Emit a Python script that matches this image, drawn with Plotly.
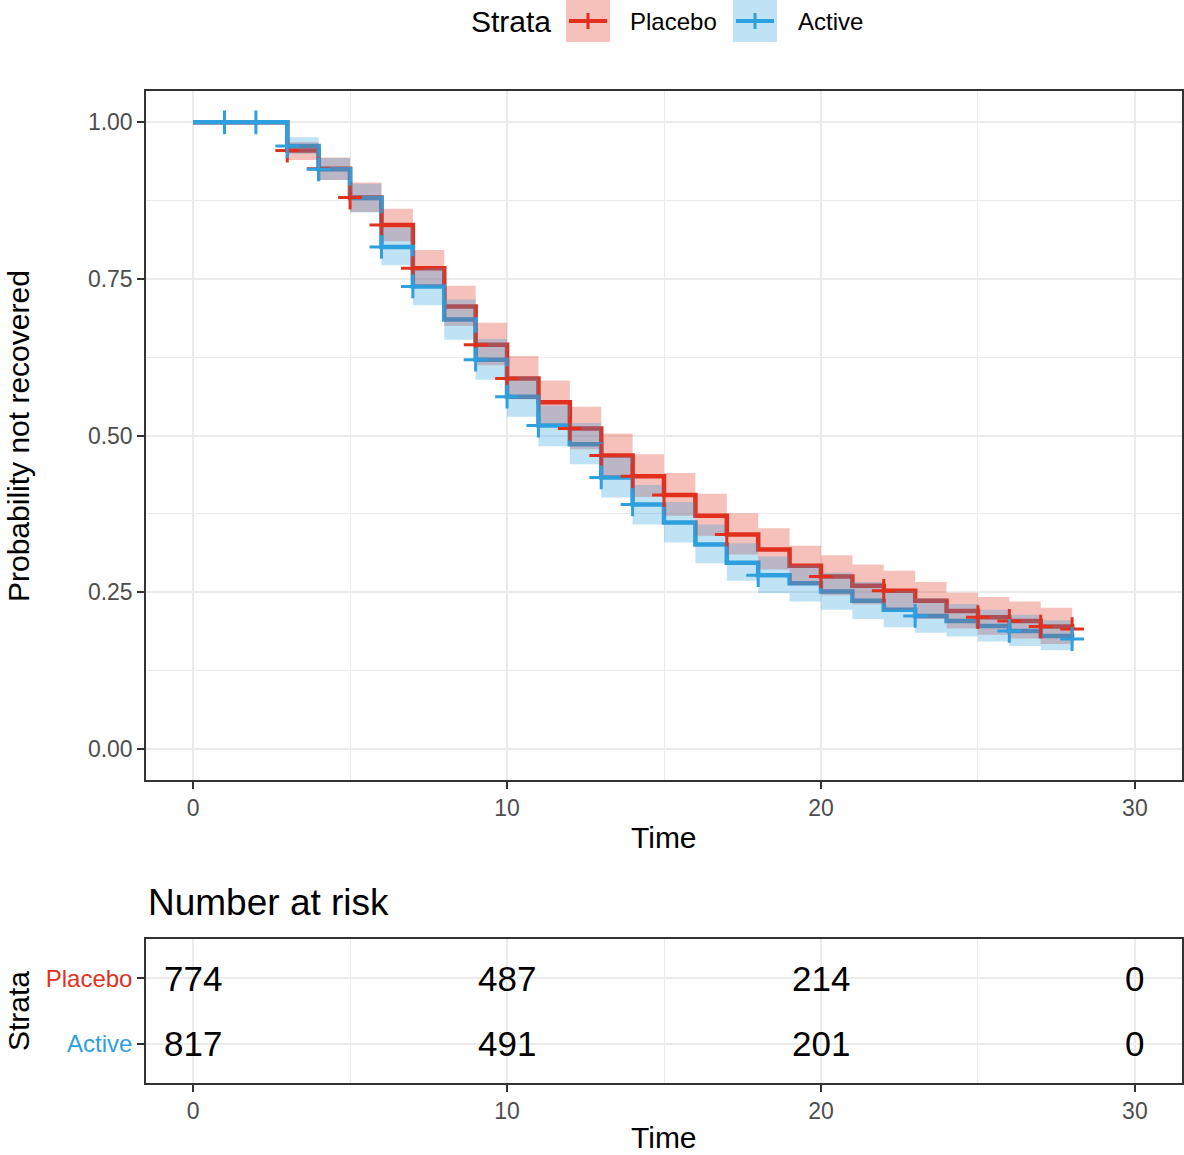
import plotly.graph_objects as go

W, H = 1184, 1155
FONT = "Liberation Sans, Arial, sans-serif"

RED = "#E2301F"
BLUE = "#2E9FDF"
RED_BAND = "rgba(226, 48, 31, 0.30)"
BLUE_BAND = "rgba(46, 159, 223, 0.30)"

# Kaplan-Meier estimates: value holds from each step time until the next one
step_times = [0, 3, 4, 5, 6, 7, 8, 9, 10, 11, 12, 13, 14, 15, 16, 17, 18, 19,
              20, 21, 22, 23, 24, 25, 26, 27, 28]
end_time = 28

placebo_surv = [1.000, 0.955, 0.926, 0.880, 0.836, 0.767, 0.706, 0.645, 0.591,
                0.553, 0.511, 0.468, 0.435, 0.405, 0.372, 0.342, 0.318, 0.292,
                0.275, 0.260, 0.252, 0.236, 0.220, 0.210, 0.204, 0.195, 0.191]
placebo_lower = [1.000, 0.940, 0.908, 0.857, 0.810, 0.739, 0.675, 0.612, 0.558,
                 0.519, 0.478, 0.435, 0.402, 0.372, 0.340, 0.310, 0.286, 0.261,
                 0.245, 0.230, 0.222, 0.207, 0.192, 0.182, 0.176, 0.167, 0.164]
placebo_upper = [1.000, 0.968, 0.944, 0.904, 0.862, 0.796, 0.739, 0.680, 0.627,
                 0.588, 0.546, 0.503, 0.470, 0.440, 0.407, 0.376, 0.352, 0.324,
                 0.309, 0.294, 0.284, 0.266, 0.249, 0.242, 0.235, 0.225, 0.222]

active_surv = [1.000, 0.962, 0.925, 0.879, 0.801, 0.738, 0.685, 0.621, 0.562,
               0.516, 0.486, 0.433, 0.390, 0.361, 0.326, 0.297, 0.277, 0.264,
               0.251, 0.236, 0.222, 0.212, 0.204, 0.196, 0.188, 0.180, 0.175]
active_lower = [1.000, 0.950, 0.908, 0.856, 0.772, 0.708, 0.653, 0.589, 0.530,
                0.483, 0.454, 0.401, 0.358, 0.329, 0.296, 0.268, 0.248, 0.235,
                0.222, 0.207, 0.194, 0.185, 0.179, 0.171, 0.164, 0.157, 0.153]
active_upper = [1.000, 0.976, 0.943, 0.902, 0.832, 0.767, 0.717, 0.654, 0.594,
                0.548, 0.520, 0.466, 0.421, 0.394, 0.358, 0.328, 0.307, 0.293,
                0.281, 0.266, 0.252, 0.240, 0.231, 0.222, 0.214, 0.205, 0.200]

# censoring times per arm
placebo_censor = [3, 4, 5, 6, 7, 9, 10, 12, 13, 14, 15, 17, 20, 22, 25, 26, 27, 28]
active_censor = [1, 2, 3, 4, 6, 7, 9, 10, 11, 13, 14, 18, 23, 26, 28]

# number at risk table
risk_times = [0, 10, 20, 30]
placebo_risk = [774, 487, 214, 0]
active_risk = [817, 491, 201, 0]

strata = ["Placebo", "Active"]


def step_path(times, values, t_end):
    xs, ys = [], []
    bounds = list(times[1:]) + [t_end]
    for t0, t1, v in zip(times, bounds, values):
        xs += [t0, t1]
        ys += [v, v]
    return xs, ys


def surv_at(t, times, values):
    out = values[0]
    for ti, v in zip(times, values):
        if ti <= t:
            out = v
    return out


def px(x):
    return x / W


def py(y):
    return 1 - y / H


fig = go.Figure()

groups = [
    ("Placebo", placebo_surv, placebo_lower, placebo_upper, placebo_censor, RED, RED_BAND),
    ("Active", active_surv, active_lower, active_upper, active_censor, BLUE, BLUE_BAND),
]

# step curves
for name, surv, lo, up, cens, col, band in groups:
    xs, ys = step_path(step_times, surv, end_time)
    fig.add_trace(go.Scatter(x=xs, y=ys, mode="lines", name=name,
                             line=dict(color=col, width=4.5), showlegend=False,
                             xaxis="x", yaxis="y"))

# confidence bands
for name, surv, lo, up, cens, col, band in groups:
    ux, uy = step_path(step_times, up, end_time)
    lx, ly = step_path(step_times, lo, end_time)
    fig.add_trace(go.Scatter(x=ux + lx[::-1], y=uy + ly[::-1], mode="lines",
                             fill="toself", fillcolor=band,
                             line=dict(width=0, color=band), showlegend=False,
                             hoverinfo="skip", xaxis="x", yaxis="y"))

# censor marks
for name, surv, lo, up, cens, col, band in groups:
    fig.add_trace(go.Scatter(
        x=cens, y=[surv_at(t, step_times, surv) for t in cens], mode="markers",
        marker=dict(symbol="cross-thin", size=17, line=dict(color=col, width=3)),
        showlegend=False, xaxis="x", yaxis="y"))

GRID = "#EBEBEB"
BORDER = "#333333"
TICKFONT = dict(family=FONT, size=23, color="#4D4D4D")

common_x = dict(
    range=[-1.5, 31.5], tickvals=[0, 10, 20, 30], ticks="outside", ticklen=7,
    tickwidth=2, tickcolor=BORDER, showline=True, linecolor=BORDER, linewidth=1.5,
    mirror=True, showgrid=True, gridcolor=GRID, gridwidth=2, zeroline=False,
    tickfont=TICKFONT, ticklabelstandoff=0,
    minor=dict(tickvals=[5, 15, 25], showgrid=True, gridcolor=GRID, gridwidth=1, ticks=""),
)

fig.update_layout(
    width=W, height=H, margin=dict(l=0, r=0, t=0, b=0),
    paper_bgcolor="white", plot_bgcolor="white",
    font=dict(family=FONT),
    xaxis=dict(domain=[px(146), px(1182)], anchor="y", **common_x),
    yaxis=dict(
        domain=[py(780), py(91)], anchor="x", range=[-0.05, 1.05],
        tickvals=[0, 0.25, 0.5, 0.75, 1.0],
        ticktext=["0.00", "0.25", "0.50", "0.75", "1.00"],
        ticks="outside", ticklen=7, tickwidth=2, tickcolor=BORDER,
        showline=True, linecolor=BORDER, linewidth=1.5, mirror=True,
        showgrid=True, gridcolor=GRID, gridwidth=2, zeroline=False,
        tickfont=TICKFONT,
        minor=dict(tickvals=[0.125, 0.375, 0.625, 0.875], showgrid=True,
                   gridcolor=GRID, gridwidth=1, ticks=""),
    ),
    xaxis2=dict(domain=[px(146), px(1182)], anchor="y2", **common_x),
    yaxis2=dict(
        domain=[py(1083), py(939)], anchor="x2", range=[0.4, 2.6],
        tickvals=[2, 1],
        ticktext=[f'<span style="color:{RED}">{strata[0]}</span>',
                  f'<span style="color:{BLUE}">{strata[1]}</span>'],
        ticks="outside", ticklen=7, tickwidth=2, tickcolor=BORDER,
        showline=True, linecolor=BORDER, linewidth=1.5, mirror=True,
        showgrid=True, gridcolor=GRID, gridwidth=2, zeroline=False,
        tickfont=dict(family=FONT, size=24),
    ),
)

annotations = [
    dict(text="Time", x=px(664), y=py(838), font=dict(size=30, color="black")),
    dict(text="Time", x=px(664), y=py(1137), font=dict(size=30, color="black")),
    dict(text="Probability not recovered", x=px(18), y=py(436), textangle=-90,
         font=dict(size=30, color="black")),
    dict(text="Strata", x=px(18), y=py(1011), textangle=-90,
         font=dict(size=30, color="black")),
    dict(text="Number at risk", x=px(146), y=py(902), xanchor="left",
         font=dict(size=37, color="black")),
    dict(text="Strata", x=px(469), y=py(21), xanchor="left",
         font=dict(size=30, color="black")),
    dict(text="Placebo", x=px(628), y=py(21), xanchor="left",
         font=dict(size=24, color="black")),
    dict(text="Active", x=px(796), y=py(21), xanchor="left",
         font=dict(size=24, color="black")),
]
for a in annotations:
    a.setdefault("xanchor", "center")
    a.update(xref="paper", yref="paper", yanchor="middle", showarrow=False)
    a["font"]["family"] = FONT

# risk table numbers, placed on the table's own axes
for row, counts in zip([2, 1], [placebo_risk, active_risk]):
    for t, c in zip(risk_times, counts):
        annotations.append(dict(
            text=str(c), x=t, y=row, xref="x2", yref="y2", xanchor="center",
            yanchor="middle", showarrow=False,
            font=dict(family=FONT, size=35, color="black")))

fig.update_layout(annotations=annotations)

# legend keys
shapes = []
for x0, col, band in [(566, RED, RED_BAND), (733, BLUE, BLUE_BAND)]:
    shapes.append(dict(type="rect", xref="paper", yref="paper",
                       x0=px(x0), x1=px(x0 + 44), y0=py(42), y1=py(0),
                       fillcolor=band, line=dict(width=0), layer="above"))
    shapes.append(dict(type="line", xref="paper", yref="paper",
                       x0=px(x0 + 3), x1=px(x0 + 41), y0=py(21), y1=py(21),
                       line=dict(color=col, width=4), layer="above"))
    shapes.append(dict(type="line", xref="paper", yref="paper",
                       x0=px(x0 + 22), x1=px(x0 + 22), y0=py(13), y1=py(29),
                       line=dict(color=col, width=3), layer="above"))
fig.update_layout(shapes=shapes)

fig.write_html("out.html")
